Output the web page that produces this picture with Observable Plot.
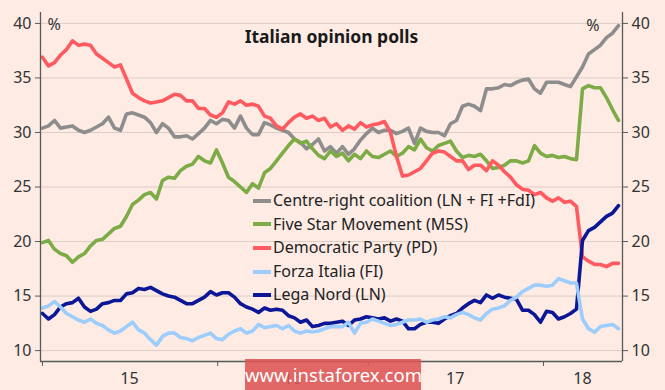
<!DOCTYPE html>
<html><head><meta charset="utf-8">
<script src="https://cdn.jsdelivr.net/npm/d3@7"></script>
<script src="https://cdn.jsdelivr.net/npm/@observablehq/plot@0.6"></script>
<style>
html,body{margin:0;padding:0;background:#fdebe4;}
#wrap{position:relative;width:665px;height:390px;font-family:"Noto Sans",sans-serif;color:#222;}
#legend{position:absolute;left:253px;top:189px;font-size:16px;line-height:23.6px;}
#legend .row{display:flex;align-items:center;white-space:nowrap;}
#legend .sw{width:18px;height:4px;margin-right:2px;}
#wm{position:absolute;left:245px;top:359px;width:176px;height:31px;background:rgba(221,84,84,0.88);color:#fff;font-size:18.5px;line-height:31px;text-align:center;}
</style></head><body><div id="wrap"><div id="chart"></div><div id="legend"></div><div id="wm">www.instaforex.com</div></div>
<script>
// x is a running sample index (one sample per poll step); year boundaries in sample units
const yearLabels = ["15", "16", "17", "18"];
const yearStarts = [0, 29.2, 54.3, 83.5];
const yearMids = [14.5, 41.7, 68.8, 90];
const yTicks = [10, 15, 20, 25, 30, 35, 40];
const xDomain = [-0.33, 96.67];
const yDomain = [9, 41];

const seriesNames = ["Centre-right coalition (LN + FI +FdI)", "Five Star Movement (M5S)", "Democratic Party (PD)", "Forza Italia (FI)", "Lega Nord (LN)"];
const seriesColors = ["#8d8d8d", "#7dab45", "#ff5a5f", "#9dcdfc", "#0b1796"];

const centreRight = [30.4,30.6,31.1,30.4,30.5,30.6,30.2,30.0,30.2,30.5,30.8,31.4,30.4,30.2,31.7,31.8,31.6,31.4,30.9,30.0,30.8,30.4,29.6,29.6,29.7,29.4,29.9,30.4,31.1,30.8,31.2,31.1,30.4,31.5,30.4,29.8,29.8,30.9,30.7,30.4,30.2,30.0,29.4,29.1,28.5,28.9,29.4,28.3,28.7,28.1,28.7,28.0,28.5,29.3,29.9,30.4,30.0,30.2,30.2,29.9,30.1,30.4,29.0,30.4,30.1,30.0,30.0,29.7,30.8,31.1,32.4,32.6,32.4,32.0,34.0,34.0,34.1,34.4,34.3,34.6,34.8,34.9,34.0,33.6,34.6,34.6,34.6,34.4,34.2,35.1,36.0,37.2,37.6,38.0,38.7,39.1,39.8];
const fiveStar = [19.9,20.1,19.3,18.9,18.7,18.1,18.6,18.9,19.6,20.1,20.2,20.7,21.2,21.4,22.3,23.4,23.8,24.3,24.5,23.9,25.6,25.9,25.8,26.5,26.9,27.1,27.8,27.4,27.2,28.4,27.2,25.9,25.5,25.0,24.5,25.3,24.9,26.3,26.7,27.4,28.1,28.8,29.4,29.0,29.2,28.5,27.9,27.6,28.3,27.8,28.1,27.4,28.0,27.6,28.3,27.8,27.7,28.0,28.3,27.8,28.1,28.7,28.4,29.4,28.6,28.3,28.8,29.0,29.2,28.3,27.7,27.9,27.8,28.0,27.4,26.7,26.8,27.0,27.4,27.4,27.2,27.4,28.8,28.1,27.8,27.9,27.7,27.8,27.6,27.5,34.0,34.3,34.1,34.1,33.2,32.1,31.1];
const democratic = [36.9,36.1,36.4,37.1,37.6,38.4,38.0,38.1,38.0,37.2,36.8,36.4,36.0,36.2,34.9,33.6,33.2,32.9,32.7,32.8,32.9,33.2,33.5,33.4,32.9,32.9,32.2,32.2,31.6,31.4,31.8,32.8,32.6,32.9,32.5,32.6,32.4,31.5,31.3,30.6,30.3,30.9,31.4,31.7,31.3,31.5,31.1,31.3,30.5,30.8,30.2,30.6,30.3,30.9,30.5,30.7,30.8,31.0,30.0,27.8,26.0,26.1,26.4,26.7,27.4,28.1,28.3,28.2,27.8,27.4,27.4,26.6,27.0,27.0,26.5,27.4,27.0,26.4,25.9,25.2,24.8,24.7,24.3,24.5,24.0,23.7,24.0,23.6,23.7,23.2,18.6,18.2,17.9,17.9,17.7,18.0,18.0];
const forzaItalia = [13.9,14.1,14.5,14.0,13.4,13.1,12.8,12.6,12.9,12.5,12.3,11.9,11.6,11.8,12.2,12.6,11.9,11.6,11.0,10.5,11.3,11.6,11.6,11.2,11.1,10.9,11.2,11.4,11.6,11.1,11.0,11.5,11.8,12.0,11.6,11.8,12.4,12.1,12.2,12.3,12.0,12.3,11.8,11.6,11.8,11.7,11.8,12.0,12.2,12.2,12.2,12.6,11.6,12.5,12.6,12.9,12.7,12.5,12.3,12.4,12.6,12.8,12.8,12.9,12.6,12.8,12.9,13.1,13.0,13.3,13.5,13.3,13.0,12.8,13.4,13.8,13.9,14.1,14.6,14.9,15.4,15.7,16.0,16.0,15.9,16.0,16.6,16.4,16.2,16.2,12.9,12.0,11.7,12.2,12.3,12.4,12.0];
const legaNord = [13.4,12.9,13.3,14.0,14.3,14.4,14.8,14.0,13.6,13.8,14.3,14.4,14.6,14.6,15.2,15.3,15.7,15.6,15.8,15.5,15.2,15.0,14.9,14.6,14.3,14.3,14.6,14.9,15.4,15.1,15.3,15.3,14.9,14.3,14.0,13.8,13.5,13.9,13.7,13.8,13.7,13.2,13.0,12.6,12.8,12.2,12.3,12.5,12.5,12.6,12.7,12.3,12.8,12.9,13.1,13.0,12.9,13.0,12.7,12.9,12.7,12.0,12.0,12.4,12.6,12.6,12.5,12.9,13.2,13.4,13.9,14.3,14.6,14.4,15.1,14.8,15.1,14.9,14.8,14.7,13.7,13.7,13.3,12.6,13.6,13.5,12.9,13.1,13.4,13.8,20.1,21.0,21.3,21.8,22.3,22.6,23.3];

const seriesValues = [centreRight, fiveStar, democratic, forzaItalia, legaNord];
const drawOrder = [0, 1, 2, 4, 3];

const chart = Plot.plot({
  width: 665, height: 390,
  marginLeft: 40, marginRight: 43, marginTop: 12, marginBottom: 29,
  style: {background: "transparent", fontFamily: "'Noto Sans', sans-serif", fontSize: "16px", color: "#333"},
  x: {domain: xDomain, axis: null},
  y: {domain: yDomain, axis: null},
  marks: [
    Plot.ruleY(yTicks, {stroke: "#dccdc6", strokeWidth: 1}),
    ...drawOrder.map(k => Plot.line(seriesValues[k], {x: (d, i) => i, y: d => d, stroke: seriesColors[k], strokeWidth: 3.6, strokeLinejoin: "round", strokeLinecap: "round", curve: "linear"})),
    Plot.ruleX(xDomain, {stroke: "#5a5a5a", strokeWidth: 1.3}),
    Plot.ruleY([yDomain[0]], {stroke: "#5a5a5a", strokeWidth: 1.3}),
    Plot.axisY(yTicks, {anchor: "left", tickSize: 5, tickPadding: 4, fontSize: 16, stroke: "#5a5a5a", fill: "#333"}),
    Plot.axisY(yTicks, {anchor: "right", tickSize: 5, tickPadding: 4, fontSize: 16, stroke: "#5a5a5a", fill: "#333"}),
    Plot.axisX(yearStarts, {anchor: "bottom", tickSize: 5, tickFormat: () => "", stroke: "#5a5a5a"}),
    Plot.text(yearLabels, {x: yearMids, text: d => d, frameAnchor: "bottom", dy: 22, fontSize: 16, fill: "#333"}),
    Plot.text(["Italian opinion polls"], {text: d => d, frameAnchor: "top", dy: 18, fontSize: 17.5, fontWeight: "bold", fill: "#1a1a1a"}),
    Plot.text(["%"], {text: d => d, frameAnchor: "top-left", dx: 7, dy: 6, fontSize: 16, fill: "#333"}),
    Plot.text(["%"], {text: d => d, frameAnchor: "top-right", dx: -23, dy: 7, fontSize: 16, fill: "#333"})
  ]
});
document.getElementById("chart").appendChild(chart);

const legend = document.getElementById("legend");
seriesNames.forEach((name, k) => {
  const row = document.createElement("div");
  row.className = "row";
  const sw = document.createElement("span");
  sw.className = "sw";
  sw.style.background = seriesColors[k];
  const t = document.createElement("span");
  t.textContent = name;
  row.appendChild(sw); row.appendChild(t);
  legend.appendChild(row);
});
</script>
</body></html>
